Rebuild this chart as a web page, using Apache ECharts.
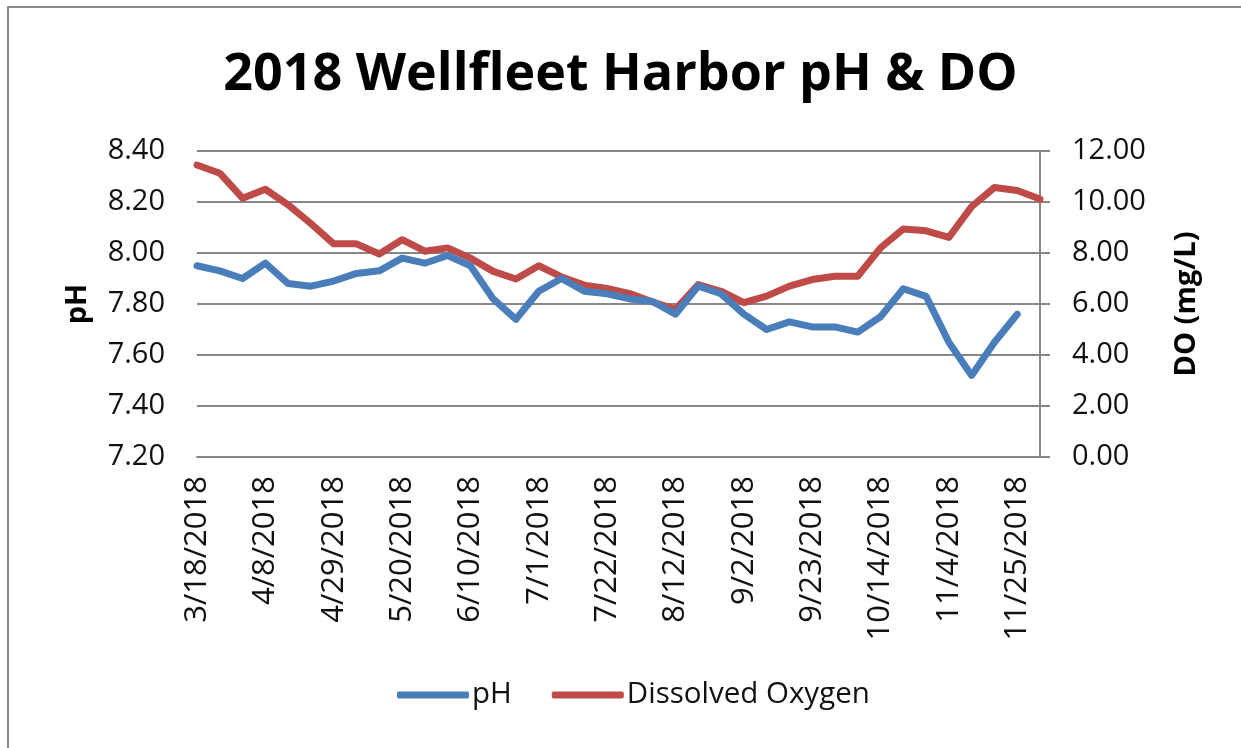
<!DOCTYPE html>
<html>
<head>
<meta charset="utf-8">
<script src="https://cdn.jsdelivr.net/npm/echarts@6/dist/echarts.min.js"></script>
<style>
html,body{margin:0;padding:0;background:#fff;}
#chart{width:1241px;height:748px;}
</style>
</head>
<body>
<div id="chart"></div>
<script>
const dates = ['3/18/2018','3/25/2018','4/1/2018','4/8/2018','4/15/2018','4/22/2018','4/29/2018','5/6/2018','5/13/2018','5/20/2018','5/27/2018','6/3/2018','6/10/2018','6/17/2018','6/24/2018','7/1/2018','7/8/2018','7/15/2018','7/22/2018','7/29/2018','8/5/2018','8/12/2018','8/19/2018','8/26/2018','9/2/2018','9/9/2018','9/16/2018','9/23/2018','9/30/2018','10/7/2018','10/14/2018','10/21/2018','10/28/2018','11/4/2018','11/11/2018','11/18/2018','11/25/2018','12/2/2018'];
const phValues = [7.95,7.93,7.90,7.96,7.88,7.87,7.89,7.92,7.93,7.98,7.96,7.99,7.95,7.82,7.74,7.85,7.90,7.85,7.84,7.82,7.81,7.76,7.87,7.84,7.76,7.70,7.73,7.71,7.71,7.69,7.75,7.86,7.83,7.65,7.52,7.65,7.76,null];
const doValues = [11.45,11.13,10.15,10.50,9.89,9.15,8.36,8.36,7.96,8.52,8.07,8.20,7.80,7.28,6.98,7.50,7.06,6.74,6.61,6.41,6.08,5.79,6.76,6.50,6.05,6.31,6.70,6.96,7.09,7.09,8.20,8.94,8.87,8.61,9.82,10.57,10.45,10.12];
const seriesNames = ['pH','Dissolved Oxygen'];
const titleText = '2018 Wellfleet Harbor pH & DO';

const FONT = 'Open Sans';
const GRID = '#878787';
const chart = echarts.init(document.getElementById('chart'), null, {renderer:'canvas'});
chart.setOption({
  backgroundColor:'#fff',
  animation:false,
  graphic:[{type:'rect',shape:{x:8,y:7,width:1260,height:780},style:{fill:'none',stroke:'#8a8a8a',lineWidth:2},silent:true}],
  title:{text:titleText,left:'center',top:44,textStyle:{fontFamily:FONT,fontWeight:'bold',fontSize:52,color:'#000'}},
  legend:{data:seriesNames,bottom:33,left:392,icon:'roundRect',itemWidth:72,itemHeight:7,itemGap:40,
    textStyle:{fontFamily:FONT,fontSize:29.5,color:'#111',padding:[0,0,0,-2]}},
  grid:{left:197,right:201,top:151,bottom:291,containLabel:false},
  xAxis:{type:'category',data:dates,boundaryGap:false,
    axisLine:{lineStyle:{color:GRID,width:2}},axisTick:{show:false},
    axisLabel:{interval:2,rotate:90,margin:19,fontFamily:FONT,fontSize:31,color:'#111'},
    splitLine:{show:false}},
  yAxis:[
    {type:'value',min:7.2,max:8.4,interval:0.2,name:'pH',nameLocation:'middle',nameRotate:90,nameGap:105,
      nameTextStyle:{fontFamily:FONT,fontWeight:'bold',fontSize:29,color:'#000'},
      axisLine:{show:false},axisTick:{show:false},
      axisLabel:{margin:32,fontFamily:FONT,fontSize:29,color:'#111',formatter:v=>v.toFixed(2)},
      splitLine:{lineStyle:{color:GRID,width:2}}},
    {type:'value',min:0,max:12,interval:2,name:'DO (mg/L)',nameLocation:'middle',nameRotate:90,nameGap:132,
      nameTextStyle:{fontFamily:FONT,fontWeight:'bold',fontSize:29,color:'#000'},
      axisLine:{show:true,lineStyle:{color:GRID,width:2}},
      axisTick:{show:true,inside:false,length:10,lineStyle:{color:GRID,width:2}},
      axisLabel:{margin:32,fontFamily:FONT,fontSize:29,color:'#111',formatter:v=>v.toFixed(2)},
      splitLine:{show:false}}
  ],
  series:[
    {name:seriesNames[0],type:'line',yAxisIndex:0,data:phValues,showSymbol:false,symbol:'none',
      lineStyle:{color:'#4a7ebb',width:7,join:'round',cap:'round'},itemStyle:{color:'#4a7ebb'},z:3},
    {name:seriesNames[1],type:'line',yAxisIndex:1,data:doValues,showSymbol:false,symbol:'none',
      lineStyle:{color:'#be4b48',width:7,join:'round',cap:'round'},itemStyle:{color:'#be4b48'},z:2}
  ]
});
</script>
</body>
</html>
